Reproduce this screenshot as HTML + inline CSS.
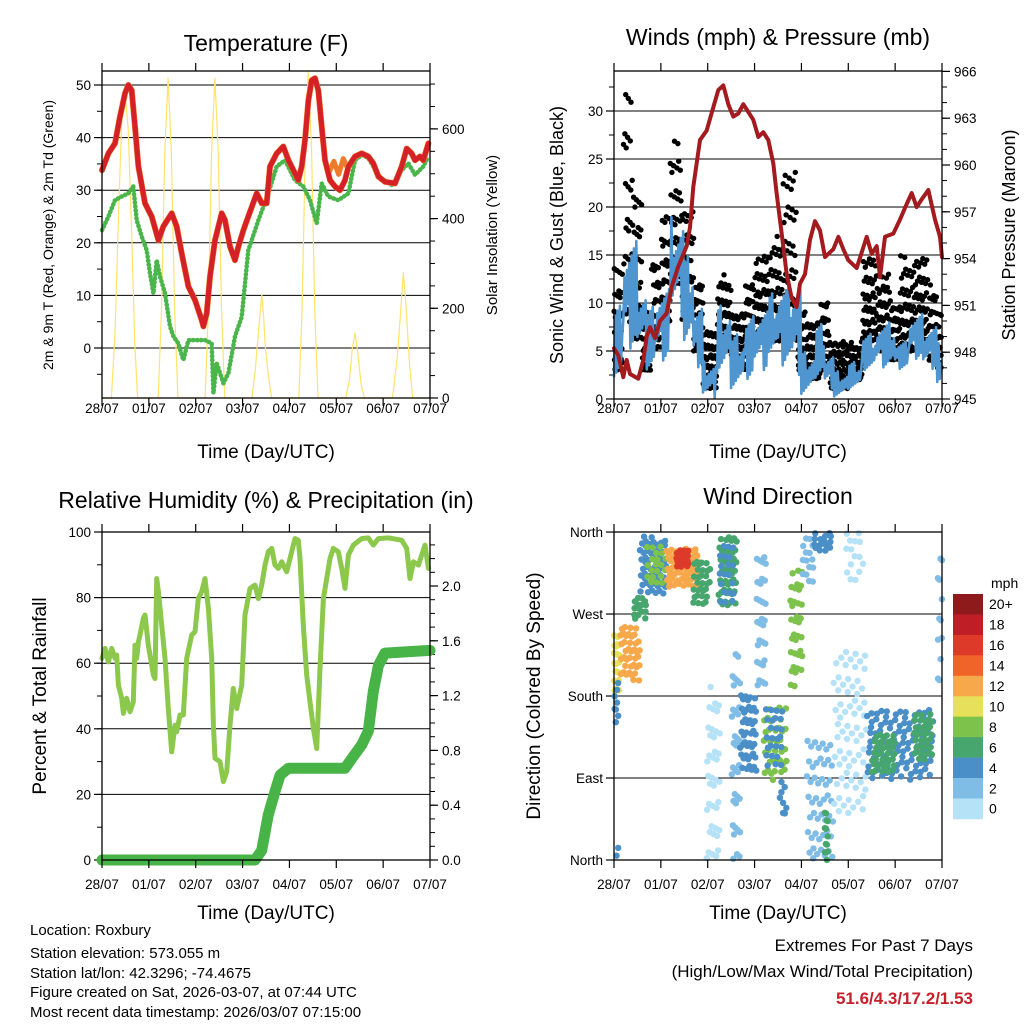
<!DOCTYPE html>
<html><head><meta charset="utf-8"><style>
html,body{margin:0;padding:0;background:#fff}
svg{display:block}
text{font-family:"Liberation Sans",Arial,sans-serif;fill:#000}
</style></head><body>
<svg id="chart" width="1024" height="1024" viewBox="0 0 1024 1024" xmlns="http://www.w3.org/2000/svg">
<g id="g1"></g>
<g id="g2"></g>
<g id="g3"></g>
<g id="g4"></g>
<g id="g5">
<text x="30" y="935" font-size="15">Location: Roxbury</text>
<text x="30" y="958" font-size="15">Station elevation: 573.055 m</text>
<text x="30" y="978" font-size="15">Station lat/lon: 42.3296; -74.4675</text>
<text x="30" y="997" font-size="15">Figure created on Sat, 2026-03-07, at 07:44 UTC</text>
<text x="30" y="1017" font-size="15">Most recent data timestamp: 2026/03/07 07:15:00</text>
<text x="973" y="951" font-size="17" text-anchor="end">Extremes For Past 7 Days</text>
<text x="973" y="977" font-size="17" text-anchor="end">(High/Low/Max Wind/Total Precipitation)</text>
<text x="973" y="1004" font-size="17" font-weight="bold" text-anchor="end" style="fill:#c8202a">51.6/4.3/17.2/1.53</text>
</g>
</svg>
<script>
const tempT=[0,0.136,0.278,0.385,0.491,0.562,0.634,0.705,0.776,0.918,1.06,1.203,1.309,1.487,1.594,1.7,1.843,1.985,2.128,2.163,2.234,2.305,2.412,2.554,2.625,2.732,2.839,2.91,3.017,3.123,3.301,3.408,3.515,3.586,3.728,3.87,3.977,4.119,4.19,4.262,4.333,4.404,4.475,4.546,4.617,4.688,4.76,4.866,4.973,5.08,5.186,5.258,5.4,5.542,5.684,5.791,5.898,6.04,6.253,6.396,6.503,6.609,6.68,6.787,6.858,6.965];
const tempV=[33.8,37,38.9,44,48.4,50,49,42.1,34.5,27.5,25,20.5,23.1,25.6,23.1,18,11.7,9.1,5.3,4.1,6.6,13.6,20.5,25.6,24.3,19.3,16.7,19.3,22.4,25,29.4,27.5,27.5,34.5,37,38.3,35.7,33.2,31.9,34.5,39.5,47.1,50.9,51.3,49,42.1,35.7,31.9,30.7,30,31.9,34.5,36.4,37,36.4,35.1,32.6,31.6,31.3,34.5,37.9,37,35.7,36.4,35.7,38.9];
const temp9T=[4.85,4.95,5.05,5.15,5.25];
const temp9V=[33.5,35.5,33,36,34];
const dewT=[0,0.136,0.278,0.42,0.562,0.669,0.74,0.847,0.954,1.025,1.096,1.167,1.238,1.345,1.452,1.523,1.629,1.736,1.843,2.056,2.199,2.341,2.377,2.448,2.59,2.697,2.839,2.981,3.123,3.337,3.55,3.728,3.906,4.119,4.297,4.44,4.582,4.688,4.83,5.044,5.258,5.4,5.542,5.684,5.791,5.898,6.182,6.396,6.538,6.68,6.858,6.965];
const dewV=[22.4,25,28.1,28.8,29.4,30.7,24.3,21.2,18.6,14.2,10.4,16.7,13.6,10.4,4.1,2.2,0.9,-2.3,1.5,1.5,1.5,0.9,-8.6,-2.9,-6.7,-4.8,2.2,5.9,18.6,24.3,29.4,34.5,35.7,31.9,30.7,28.1,23.7,31.3,28.8,28.1,29.4,35.7,36.7,36.1,34.5,32.3,31,33.8,35.1,32.9,34.5,36.4];
const solarT=[0,0.2,0.28,0.35,0.42,0.49,0.56,0.63,0.7,0.76,1.2,1.27,1.34,1.41,1.48,1.55,1.62,2.2,2.27,2.34,2.41,2.48,2.55,2.62,3.2,3.27,3.34,3.41,3.45,3.48,3.55,3.62,4.2,4.27,4.34,4.4,4.47,4.54,4.61,5.2,5.28,5.34,5.4,5.46,5.53,5.6,6.2,6.3,6.38,6.43,6.48,6.56,6.63,7];
const solarV=[0,0,150,400,620,680,600,380,120,0,0,200,550,713,550,200,0,0,200,550,713,550,200,0,0,60,150,230,180,120,50,0,0,200,560,727,560,200,0,0,40,110,145,100,30,0,0,90,200,279,220,80,0,0];
const tempTicks=[0,10,20,30,40,50];
const solarTicks=[0,200,400,600];
const dayLabels=["28/07","01/07","02/07","03/07","04/07","05/07","06/07","07/07"];
const bandT=[0,0.2,0.5,0.7,0.9,1.2,1.5,1.7,1.9,2.2,2.5,2.8,3.0,3.3,3.5,3.8,4.0,4.3,4.5,4.7,5.0,5.3,5.6,6.0,6.3,6.6,6.9,7.0];
const windLo=[2,5,5,3,4,8,5,3,0,2,1,2,3,4,3,2,0,2,1,0,1,3,3,3,4,3,1];
const windHi=[10,17,12,10,12,19,15,10,4,10,7,9,10,11,12,13,5,8,5,3,4,7,8,6,9,8,6];
const gustT=[0,0.2,0.4,0.6,0.8,1.0,1.2,1.45,1.7,1.9,2.2,2.5,2.8,3.0,3.3,3.6,3.9,4.1,4.4,4.6,5.0,5.3,5.6,5.9,6.1,6.4,6.7,6.9,7.0];
const gustLo=[3,8,6,3,5,8,12,8,5,1,5,3,5,6,6,6,3,2,3,1,2,6,5,4,5,6,4,3];
const gustHi=[15,32,22,10,14,20,27,20,13,7,13,9,13,15,17,24,10,8,11,6,6,15,13,10,15,15,12,9];
const presT=[0,0.092,0.199,0.27,0.341,0.519,0.626,0.697,0.768,0.875,0.982,1.124,1.231,1.373,1.551,1.622,1.693,1.835,1.977,2.12,2.226,2.333,2.44,2.547,2.653,2.76,2.867,2.973,3.08,3.187,3.294,3.4,3.471,3.578,3.685,3.791,3.898,3.97,4.076,4.183,4.29,4.396,4.503,4.681,4.788,4.894,5.001,5.179,5.392,5.499,5.606,5.677,5.783,5.961,6.104,6.246,6.353,6.459,6.566,6.708,6.851,6.957,7.0];
const presV=[948.25,947.8,946.4,947.5,946.6,946.3,947.5,949,949.6,948.9,950,950.5,952.2,953.5,954.8,956,958.6,961.6,962.2,963.7,964.8,965.1,963.9,963.1,963.3,963.9,963.4,962.9,961.8,962.1,961.6,960.1,958.2,955.6,953,951.5,950.9,952.4,953,955.2,956.4,955.8,954.1,954.6,955.4,954.6,953.9,953.4,955.4,954.3,954.8,952.8,955.4,955.6,956.5,957.5,958.2,957.3,957.8,958.4,956.5,955.4,954.1];
const windTicks=[0,5,10,15,20,25,30];
const presTicks=[945,948,951,954,957,960,963,966];
const rhT=[0,0.064,0.136,0.207,0.278,0.313,0.349,0.42,0.456,0.527,0.598,0.669,0.705,0.74,0.776,0.811,0.882,0.918,0.989,1.06,1.096,1.131,1.167,1.203,1.274,1.345,1.416,1.487,1.558,1.594,1.665,1.736,1.807,1.914,1.985,2.056,2.128,2.199,2.27,2.341,2.377,2.412,2.519,2.59,2.661,2.732,2.803,2.874,2.981,3.052,3.159,3.266,3.337,3.408,3.479,3.55,3.621,3.692,3.764,3.835,3.941,4.048,4.119,4.19,4.226,4.297,4.368,4.44,4.511,4.582,4.653,4.724,4.795,4.866,4.937,5.044,5.115,5.186,5.258,5.364,5.542,5.684,5.791,5.898,6.11,6.396,6.503,6.574,6.645,6.752,6.894,6.965];
const rhV=[61.5,64.5,60.4,64.5,61.5,62.5,53.3,49.3,44.7,49.3,45.2,48.2,65.5,61.5,66.5,68.6,73.6,74.7,65.5,59.4,56.4,55.3,85.8,81.8,71.6,61.5,46.2,33,41.1,39.1,44.2,44.2,61.5,68.6,69.6,79.7,81.8,85.8,76.7,61.5,41.1,31,30,23.9,26.9,41.1,52.3,46.2,53.3,74.7,82.8,83.8,79.7,83.8,89.9,94,95,89.9,88.9,90.9,87.9,94,98,97.5,91.9,71.6,56.4,48.2,40.1,34,58.4,79.7,85.8,91.9,95,94,88.9,82.8,93,96,98,98.2,96,98,98.2,97.5,95,85.8,90.9,89.9,96,88.9];
const rainT=[0,3.266,3.408,3.55,3.692,3.8,3.977,5.186,5.329,5.542,5.684,5.791,5.898,6.04,7.0];
const rainV=[0,0,0.07,0.33,0.5,0.62,0.67,0.67,0.74,0.84,0.94,1.23,1.42,1.51,1.53];
const rhTicks=[0,20,40,60,80,100];
const rainTicks=[0,0.4,0.8,1.2,1.6,2.0];
const clT0=[0.0,0.0,0.13,0.4,0.55,0.7,1.12,1.3,1.69,1.98,2.23,2.25,2.51,2.69,3.04,3.19,3.2,3.54,3.76,3.97,4.11,4.5,4.25,4.68,4.96,5.39,5.5,6.39,6.89,0.05];
const clT1=[0.13,0.1,0.55,0.7,1.12,1.1,1.83,1.6,2.05,2.26,2.62,2.6,2.69,3.04,3.26,3.68,3.6,3.68,4.04,4.25,4.68,4.58,4.68,5.39,5.32,6.81,6.0,6.81,7.0,0.2];
const clD0=[183,150,197,263,292,300,300,320,278,0,274,280,0,93,190,88,100,50,190,300,0,0,337,50,300,88,95,110,183,0];
const clD1=[252,200,256,289,355,345,344,340,329,190,355,350,227,183,347,168,170,90,318,355,139,60,359,234,359,165,140,160,336,20];
const clSpd=[10,4,13,7,5,8,13,16,6,1,7,4,3,4,2,8,4,4,9,3,3,7,4,1,1,4,6,7,2,4];
const clN=[25,8,40,15,60,20,60,20,30,40,45,20,35,45,30,40,25,8,35,15,50,12,15,70,15,110,40,35,12,2];
const dirLabels=["North","East","South","West","North"];
const spdLabels=["0","2","4","6","8","10","12","14","16","18","20+"];
const spdColors=["#b5e2f7","#80bde6","#4a8fc7","#47a56e","#7dc24a","#e6e05a","#f6a84a","#f0642a","#dd3a2a","#bf1e27","#8e1a1c"];

const NS="http://www.w3.org/2000/svg";
function mk(parent,tag,attrs,text){const e=document.createElementNS(NS,tag);for(const k in attrs)e.setAttribute(k,attrs[k]);if(text!==undefined)e.textContent=text;parent.appendChild(e);return e;}
function frac(x){return x-Math.floor(x);}
const A1=0.7548776662,A2=0.5698402910;

function panel(g,x0,x1,y0,y1){return {g,x0,x1,y0,y1,xs:t=>x0+t/7*(x1-x0)};}
function axisX(p,labelY,titleY){
  for(let d=0;d<=7;d++){const x=p.xs(d);
    const t1=mk(p.g,'line',{x1:x,x2:x,y1:p.y1,y2:p.y1+8,stroke:'#000','stroke-width':1.2});
    
    mk(p.g,'line',{x1:x,x2:x,y1:p.y0,y2:p.y0-8,stroke:'#000','stroke-width':1.2});
    const l=mk(p.g,'text',{x:x,y:labelY,'font-size':13.5,'text-anchor':'middle'},dayLabels[d]);
    }
  const tt=mk(p.g,'text',{x:(p.x0+p.x1)/2,y:titleY,'font-size':19,'text-anchor':'middle'},'Time (Day/UTC)');
  
}
function axisLeft(p,ticks,ys,fmt,minorStep,grid){
  const lo=ticks[0],hi=ticks[ticks.length-1];
  if(minorStep){for(let v=lo-10*minorStep;v<=hi+10*minorStep;v+=minorStep){const y=ys(v);if(y<p.y0-0.5||y>p.y1+0.5)continue;mk(p.g,'line',{x1:p.x0,x2:p.x0-5,y1:y,y2:y,stroke:'#000','stroke-width':1});}}
  ticks.forEach((v,i)=>{const y=ys(v);
    if(grid&&y>p.y0+1&&y<p.y1-1){const gl=mk(p.g,'line',{x1:p.x0,x2:p.x1,y1:y,y2:y,stroke:'#000','stroke-width':1});
      }
    mk(p.g,'line',{x1:p.x0,x2:p.x0-8,y1:y,y2:y,stroke:'#000','stroke-width':1.2});
    const l=mk(p.g,'text',{x:p.x0-11,y:y+5,'font-size':13.5,'text-anchor':'end'},fmt(v,i));
    });
}
function axisRight(p,ticks,ys,fmt,minorStep){
  const lo=ticks[0],hi=ticks[ticks.length-1];
  if(minorStep){for(let v=lo;v<=hi+20*minorStep;v+=minorStep){const y=ys(v);if(y<p.y0-0.5||y>p.y1+0.5)continue;mk(p.g,'line',{x1:p.x1,x2:p.x1+5,y1:y,y2:y,stroke:'#000','stroke-width':1});}}
  ticks.forEach(v=>{const y=ys(v);
    mk(p.g,'line',{x1:p.x1,x2:p.x1+8,y1:y,y2:y,stroke:'#000','stroke-width':1.2});
    const l=mk(p.g,'text',{x:p.x1+12,y:y+5,'font-size':13.5},fmt(v));
    });
}
function frame(p){const f=mk(p.g,'rect',{x:p.x0,y:p.y0,width:p.x1-p.x0,height:p.y1-p.y0,fill:'none',stroke:'#000','stroke-width':1.3});
  }
function title(p,txt,y){const t=mk(p.g,'text',{x:(p.x0+p.x1)/2,y:y,'font-size':23,'text-anchor':'middle'},txt);
  }
function vtitle(g,txt,x,y,size,name){const t=mk(g,'text',{x:0,y:0,'font-size':size,'text-anchor':'middle',transform:`translate(${x},${y}) rotate(-90)`},txt);
  }
function line(p,T,V,ys,attrs,name){const pts=T.map((t,i)=>p.xs(t).toFixed(1)+','+ys(V[i]).toFixed(1)).join(' ');
  const a=Object.assign({points:pts,fill:'none','stroke-linejoin':'round','stroke-linecap':'round'},attrs);const e=mk(p.g,'polyline',a);
  return e;}

const p1=panel(document.getElementById('g1'),102,430,71,398);
const yT=v=>348-v*5.26, yS=s=>398-s*0.4485;
axisLeft(p1,tempTicks,yT,v=>String(v),5,true);
axisRight(p1,solarTicks,yS,v=>String(v),50);
line(p1,solarT,solarV,yS,{stroke:'#ffe36a','stroke-width':1.2},'solar-insolation-line');
line(p1,dewT,dewV,yT,{stroke:'#4ab54a','stroke-width':4.5,'stroke-dasharray':'0.5 3.5'},'dewpoint-line');
line(p1,tempT,tempV,yT,{stroke:'#f07a2c','stroke-width':6},'temp-9m-line');
line(p1,temp9T,temp9V,yT,{stroke:'#f07a2c','stroke-width':5},'temp-9m-deviation');
line(p1,tempT,tempV,yT,{stroke:'#d42027','stroke-width':5},'temp-2m-line');
frame(p1);axisX(p1,413,458);title(p1,'Temperature (F)',51);
vtitle(p1.g,'2m & 9m T (Red, Orange) & 2m Td (Green)',53,235,14,'y-axis-title');
vtitle(p1.g,'Solar Insolation (Yellow)',497,235,15,'y2-axis-title');

const p2=panel(document.getElementById('g2'),614,942,71,399);
const yW=v=>399-v*9.6, yP=p=>399-(p-945)*15.6;
axisLeft(p2,windTicks,yW,v=>String(v),2.5,true);
axisRight(p2,presTicks,yP,v=>String(v),1);
let seed=0;
for(let i=0;i<gustLo.length;i++){const xa=p2.xs(gustT[i]),xb=p2.xs(gustT[i+1]);const n=Math.round((xb-xa)*3.5);
  for(let k=0;k<n;k++){seed++;const f=frac(0.5+seed*A1),g2=frac(0.5+seed*A2);const x=xa+(xb-xa)*f;const v=gustLo[i]+(gustHi[i]-gustLo[i])*Math.pow(g2,1.5);
    const c=mk(p2.g,'circle',{cx:x.toFixed(1),cy:yW(v).toFixed(1),r:2.7,fill:'#000'});
    }}
(function(){let pts=[];let s=0;for(let i=0;i<windLo.length;i++){const xa=p2.xs(bandT[i]),xb=p2.xs(bandT[i+1]);const n=Math.max(2,Math.round((xb-xa)/1.2));
  for(let k=0;k<n;k++){s++;const x=xa+(xb-xa)*k/n;const f=frac(0.5+s*A2);const v=(k%2===0)?windLo[i]+(windHi[i]-windLo[i])*f*0.45:windLo[i]+(windHi[i]-windLo[i])*(0.55+0.45*f);pts.push(x.toFixed(1)+','+yW(v).toFixed(1));}}
  const e=mk(p2.g,'polyline',{points:pts.join(' '),fill:'none',stroke:'#4f95cf','stroke-width':2.6,'stroke-linejoin':'round'});
  })();
line(p2,presT,presV,yP,{stroke:'#a31b1e','stroke-width':4},'pressure-line');
frame(p2);axisX(p2,413,458);title(p2,'Winds (mph) & Pressure (mb)',45);
vtitle(p2.g,'Sonic Wind & Gust (Blue, Black)',563,235,18,'y-axis-title');
vtitle(p2.g,'Station Pressure (Maroon)',1015,235,18,'y2-axis-title');

const p3=panel(document.getElementById('g3'),102,430,532,860);
const yH=v=>860-v*3.28, yR=r=>860-r*137;
axisLeft(p3,rhTicks,yH,v=>String(v),10,true);
axisRight(p3,rainTicks,yR,v=>v.toFixed(1),0.1);
line(p3,rhT,rhV,yH,{stroke:'#8cc84b','stroke-width':5},'humidity-line');
line(p3,rainT,rainV,yR,{stroke:'#48b448','stroke-width':11},'rainfall-line');
frame(p3);axisX(p3,889,919);title(p3,'Relative Humidity (%) & Precipitation (in)',508);
vtitle(p3.g,'Percent & Total Rainfall',46,696,19,'y-axis-title');

const p4=panel(document.getElementById('g4'),614,942,532,860);
const yD=d=>860-d*0.911;
axisLeft(p4,[0,90,180,270,360],yD,(v,i)=>dirLabels[i],null,true);
let s4=0;
for(let c=0;c<clN.length;c++){const col=spdColors[Math.min(10,Math.floor(clSpd[c]/2))];
  for(let k=0;k<clN[c];k++){s4++;const f=frac(0.5+s4*A1),g=frac(0.5+s4*A2);
    const x=p4.xs(clT0[c]+(clT1[c]-clT0[c])*f), y=yD(clD0[c]+(clD1[c]-clD0[c])*g);
    const e=mk(p4.g,'circle',{cx:x.toFixed(1),cy:y.toFixed(1),r:3.2,fill:col});
    }}
frame(p4);axisX(p4,889,919);title(p4,'Wind Direction',504);
vtitle(p4.g,'Direction (Colored By Speed)',540,696,19,'y-axis-title');
(function(){const g=p4.g;const top=594,h=20.45;
  const m=mk(g,'text',{x:991,y:588,'font-size':14},'mph');
  for(let i=0;i<11;i++){const idx=10-i;const y=top+i*h;
    const r=mk(g,'rect',{x:953,y:y,width:30,height:h+0.3,fill:spdColors[idx]});
    
    const t=mk(g,'text',{x:989,y:y+h/2+5,'font-size':14},spdLabels[idx]);
    }})();
</script>
</body></html>
